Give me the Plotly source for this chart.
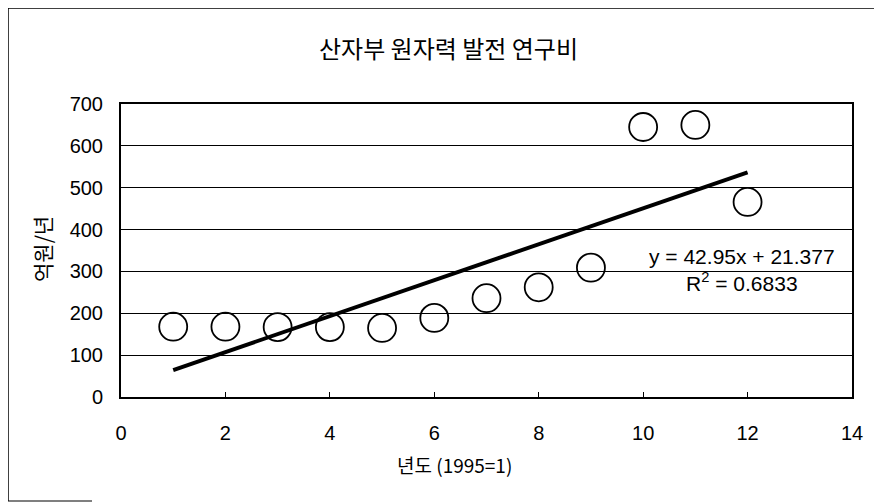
import plotly.graph_objects as go

# Data
years = [1, 2, 3, 4, 5, 6, 7, 8, 9, 10, 11, 12]
cost = [168, 168, 167, 167, 165, 189, 236, 262, 309, 645, 650, 466]
trend_slope = 42.95
trend_intercept = 21.377
trend_x = [1, 12]
r_squared = 0.6833
x_ticks = [0, 2, 4, 6, 8, 10, 12, 14]
y_ticks = [0, 100, 200, 300, 400, 500, 600, 700]

title_text = "산자부 원자력 발전 연구비"
x_title = "년도 (1995=1)"
y_title = "억원/년"

trend_y = [trend_slope * x + trend_intercept for x in trend_x]

num_font = "Liberation Sans, Arial, sans-serif"
kr_font = "Noto Sans CJK KR, sans-serif"

# page body margin offset (browser default 8px)
OFF = 8
W, H = 882 - OFF, 502 - OFF
L, R, T, B = 121 - OFF, 852 - OFF, 104 - OFF, 397 - OFF
pw, ph = R - L, B - T

def px(x):
    return (x - OFF - L) / pw

def py(y):
    return (B - (y - OFF)) / ph

fig = go.Figure()
fig.add_trace(go.Scatter(
    x=trend_x, y=trend_y, mode="lines",
    line=dict(color="black", width=4), showlegend=False, hoverinfo="skip"))
fig.add_trace(go.Scatter(
    x=years, y=cost, mode="markers",
    marker=dict(symbol="circle-open", size=28, color="black", line=dict(width=1.8)),
    showlegend=False))

fig.update_layout(
    width=W, height=H,
    margin=dict(l=L, r=W - R, t=T, b=H - B, pad=0),
    paper_bgcolor="white", plot_bgcolor="white",
    showlegend=False,
    xaxis=dict(range=[0, 14], tickvals=x_ticks, ticktext=[str(v) for v in x_ticks],
               showgrid=False, zeroline=False, showline=True, linecolor="black",
               linewidth=1.5, mirror=True, ticks="inside", ticklen=5, tickcolor="black",
               tickwidth=1, tickfont=dict(family=num_font, size=20, color="black"),
               ticklabelstandoff=17),
    yaxis=dict(range=[0, 700], tickvals=y_ticks, ticktext=[str(v) for v in y_ticks],
               showgrid=True, gridcolor="black", gridwidth=1, zeroline=False,
               showline=True, linecolor="black", linewidth=2, mirror=True,
               ticks="", tickfont=dict(family=num_font, size=20, color="black"),
               ticklabelstandoff=12),
    annotations=[
        dict(text=title_text, xref="paper", yref="paper", x=px(448), y=py(47),
             showarrow=False, font=dict(family=kr_font, size=24, color="black"),
             xanchor="center", yanchor="middle"),
        dict(text=x_title, xref="paper", yref="paper", x=px(454), y=py(465),
             showarrow=False, font=dict(family=kr_font, size=19, color="black"),
             xanchor="center", yanchor="middle"),
        dict(text=y_title, xref="paper", yref="paper", x=px(42), y=py(249),
             showarrow=False, textangle=-90,
             font=dict(family=kr_font, size=21, color="black"),
             xanchor="center", yanchor="middle"),
        dict(text=f"y = {trend_slope}x + {trend_intercept}<br>R<sup>2</sup> = {r_squared}",
             xref="paper", yref="paper", x=px(742), y=py(270),
             showarrow=False, align="center",
             font=dict(family=num_font, size=21, color="black"),
             xanchor="center", yanchor="middle"),
    ],
    shapes=[
        dict(type="line", xref="paper", yref="paper", x0=px(8), x1=px(882),
             y0=py(8), y1=py(8), line=dict(color="black", width=1.5)),
        dict(type="line", xref="paper", yref="paper", x0=px(8), x1=px(8),
             y0=py(8), y1=py(501), line=dict(color="black", width=1.5)),
        dict(type="line", xref="paper", yref="paper", x0=px(8), x1=px(92),
             y0=py(501), y1=py(501), line=dict(color="black", width=1.2)),
    ],
)

fig.write_html("out.html")
